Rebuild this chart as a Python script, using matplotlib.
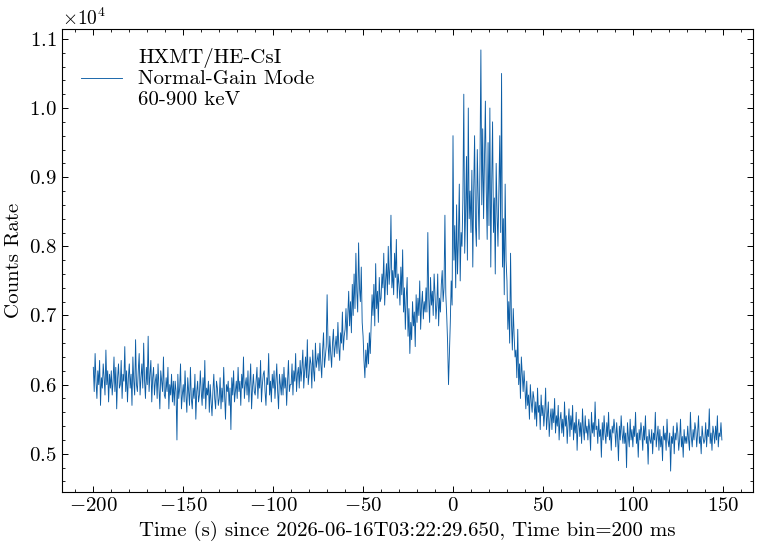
"""
HXMT/HE-CsI light curve, normal-gain mode, 60-900 keV
"""
import numpy as np
import matplotlib
matplotlib.use('Agg')
import matplotlib.pyplot as plt

plt.rcParams.update({
    'font.family': 'serif',
    'font.serif': ['cmr10'],
    'mathtext.fontset': 'cm',
    'axes.formatter.use_mathtext': True,
    'axes.unicode_minus': True,
    'xtick.direction': 'in', 'ytick.direction': 'in',
    'xtick.top': True, 'ytick.right': True,
    'xtick.minor.visible': True, 'ytick.minor.visible': True,
    'xtick.major.size': 4.5, 'ytick.major.size': 4.5,
    'xtick.minor.size': 2.5, 'ytick.minor.size': 2.5,
    'xtick.major.width': 0.7, 'ytick.major.width': 0.7,
    'xtick.minor.width': 0.6, 'ytick.minor.width': 0.6,
    'axes.linewidth': 0.8,
})

# rate values (counts/s), 0.5 s steps
t_start = -200.0
t_step = 0.5

rate_pre = [  # -200 .. -100 s
    6250, 5900, 6450, 6050, 5800, 6200, 6000, 6350, 5700, 6100,
    5950, 6300, 6100, 5850, 6500, 6000, 6200, 5750, 6150, 5950,
    6200, 5850, 6050, 6400, 5900, 6250, 5650, 6100, 6300, 5950,
    6000, 6350, 5800, 6150, 6050, 6550, 5900, 6200, 5750, 6100,
    6300, 5950, 6150, 5700, 6400, 6050, 5850, 6650, 6000, 5900,
    6200, 6450, 5850, 6100, 6300, 5950, 6600, 6050, 5800, 6250,
    6000, 6700, 5900, 6150, 6350, 5750, 6100, 6250, 5850, 6050,
    6150, 5800, 6300, 5950, 5650, 6200, 6050, 5900, 6400, 5850,
    5800, 6100, 5900, 6250, 5650, 6000, 5850, 6150, 5750, 6050,
    5700, 6050, 5900, 5200, 6150, 5800, 5950, 6300, 5650, 5850,
    6000, 5750, 6200, 5850, 5600, 6100, 5900, 5700, 6250, 5800,
    5650, 5950, 5800, 6150, 5500, 5900, 6050, 5750, 5850, 6200,
    5900, 5700, 6100, 5800, 6350, 5650, 5950, 5850, 6050, 5600,
    6000, 5750, 5550, 5900, 6150, 5800, 5650, 6050, 5950, 5700,
    5800, 6100, 5650, 5950, 5750, 6250, 5850, 5500, 6000, 5900,
    6050, 5700, 5950, 5350, 6100, 5850, 6200, 5750, 5900, 6050,
    5800, 6250, 5900, 6050, 5700, 6150, 5950, 6400, 5800, 6000,
    6100, 5850, 6200, 5750, 6000, 6300, 5650, 5950, 6150, 5900,
    5850, 6050, 6250, 5800, 6100, 5950, 6350, 5750, 6000, 6150,
    6200, 5900, 5700, 6100, 6000, 6450, 5850, 6050, 5750, 6150,
]

rate_rise = [  # -100 .. 0 s
    5950, 6200, 5800, 6050, 6300, 5900, 5650, 6150, 6000, 5850,
    6150, 5850, 6250, 5950, 6100, 5700, 6050, 6350, 5900, 6000,
    6000, 6300, 5850, 6200, 6050, 6450, 5900, 6150, 6250, 5950,
    6350, 6050, 6250, 6500, 5950, 6200, 6400, 6100, 6650, 6000,
    6150, 6400, 6300, 5950, 6500, 6200, 6050, 6600, 6250, 6350,
    6450, 6200, 6600, 6300, 6100, 6500, 6750, 6250, 6400, 6550,
    7300, 6600, 6350, 6700, 6450, 6250, 6600, 6800, 6400, 6550,
    6700, 6450, 6900, 6550, 6350, 6750, 6600, 7050, 6500, 6700,
    6800, 7100, 6650, 7000, 7350, 6850, 7200, 6750, 7450, 7000,
    7600, 7100, 7900, 7350, 7050, 8050, 7400, 7200, 7700, 6900,
    6700, 6350, 6100, 6500, 6250, 6600, 6300, 6750, 6450, 6900,
    7300, 7000, 7450, 6850, 7750, 7100, 7350, 6900, 7550, 7200,
    7250, 7600, 7400, 7900, 7150, 7500, 7750, 7300, 8000, 7450,
    7700, 8450, 7400, 7650, 7300, 7900, 7550, 8100, 7250, 7600,
    7450, 7150, 7700, 7300, 7950, 7050, 7400, 6800, 7250, 7550,
    6700, 7100, 6450, 6900, 6650, 7200, 6850, 7050, 6550, 7300,
    6900, 7250, 7000, 7500, 6800, 7150, 7350, 6950, 7200, 7050,
    7400, 7050, 8200, 7250, 6900, 7550, 7150, 7350, 7000, 7600,
    7300, 6950, 7150, 7600, 6850, 7250, 7050, 7450, 7650, 7200,
    7400, 8450, 7300, 7000, 6600, 6000, 6450, 6900, 7500, 7150,
]

rate_main = [  # 0 .. 40 s
    9600, 7800, 8300, 7400, 8600, 7600, 8100, 8900, 7500, 8200,
    8000, 8700, 10200, 7900, 8500, 9300, 7800, 10000, 8400, 8800,
    8200, 9100, 7700, 8800, 9600, 8300, 8000, 9400, 8700, 8100,
    9200, 10840, 8600, 9700, 8400, 9300, 10100, 8800, 8100, 9500,
    8300, 10000, 7700, 8900, 9800, 8200, 8700, 7600, 9200, 8500,
    8000, 8800, 9600, 8200, 10500, 7700, 8400, 7300, 8900, 7800,
    7500, 6800, 7200, 6600, 7900, 6900, 6500, 7100, 6700, 6400,
    6500, 6100, 6800, 6000, 6300, 5800, 6400, 6150, 5900, 6200,
]

rate_decay = [  # 40 .. 150 s
    5950, 5650, 6050, 5700, 5850, 5500, 6000, 5750, 5600, 5900,
    5800, 5500, 5750, 5400, 5950, 5600, 5700, 5350, 5850, 5550,
    5700, 5400, 5600, 5950, 5350, 5550, 5750, 5250, 5500, 5650,
    5350, 5650, 5450, 5800, 5300, 5550, 5400, 5700, 5200, 5500,
    5600, 5300, 5500, 5250, 5750, 5400, 5550, 5150, 5450, 5650,
    5250, 5550, 5350, 5700, 5200, 5450, 5300, 5600, 5050, 5400,
    5500, 5250, 5450, 5150, 5650, 5350, 5200, 5550, 5300, 5400,
    5200, 5500, 5350, 5050, 5600, 5300, 5450, 5250, 5750, 5350,
    5400, 5150, 5500, 5250, 5350, 4950, 5450, 5200, 5550, 5300,
    5150, 5450, 5250, 5600, 5200, 5350, 5050, 5400, 5300, 5500,
    5350, 5100, 5450, 5250, 4900, 5400, 5200, 5550, 5300, 5150,
    5400, 5150, 5300, 4800, 5450, 5250, 5100, 5500, 5200, 5350,
    5100, 5400, 5250, 5600, 5150, 5300, 4950, 5350, 5200, 5450,
    5300, 5050, 5400, 5200, 5550, 5150, 5250, 4850, 5350, 5200,
    5150, 5350, 5000, 5300, 5200, 5600, 5100, 5250, 5400, 5050,
    5350, 5100, 5250, 4900, 5400, 5200, 5300, 5050, 5500, 5200,
    5100, 5300, 4750, 5250, 5150, 5400, 5000, 5300, 5200, 5450,
    5300, 5050, 5200, 5500, 5100, 5250, 4950, 5350, 5150, 5250,
    5150, 5400, 5200, 5050, 5600, 5250, 5100, 5350, 5200, 5450,
    5350, 5100, 5300, 5550, 5150, 5250, 5000, 5400, 5250, 5150,
    5200, 5450, 5100, 5350, 5250, 5650, 5150, 5300, 5050, 5400,
    5300, 5150, 5400, 5200, 5550, 5100, 5300, 5250, 5450, 5200,
]

rate = np.array(rate_pre + rate_rise + rate_main + rate_decay, dtype=float)
time = t_start + t_step*np.arange(len(rate))

fig = plt.figure(figsize=(7.64, 5.45), dpi=100)
ax = fig.add_axes([0.081, 0.097, 0.905, 0.85])

ax.plot(time, rate, color='#0C5DA5', lw=0.65,
        label='HXMT/HE-CsI\nNormal-Gain Mode\n60-900 keV')
ax.set_xlabel('Time (s) since 2026-06-16T03:22:29.650, Time bin=200 ms', fontsize=15)
ax.set_ylabel('Counts Rate', fontsize=15)
ax.tick_params(labelsize=15)
ax.ticklabel_format(axis='y', style='sci', scilimits=(0, 0), useMathText=True)
ax.yaxis.get_offset_text().set_fontsize(14)
ax.legend(loc='upper left', frameon=False, fontsize=15,
          handlelength=2.0, handletextpad=0.75)

fig.savefig('out.png', dpi=100)
